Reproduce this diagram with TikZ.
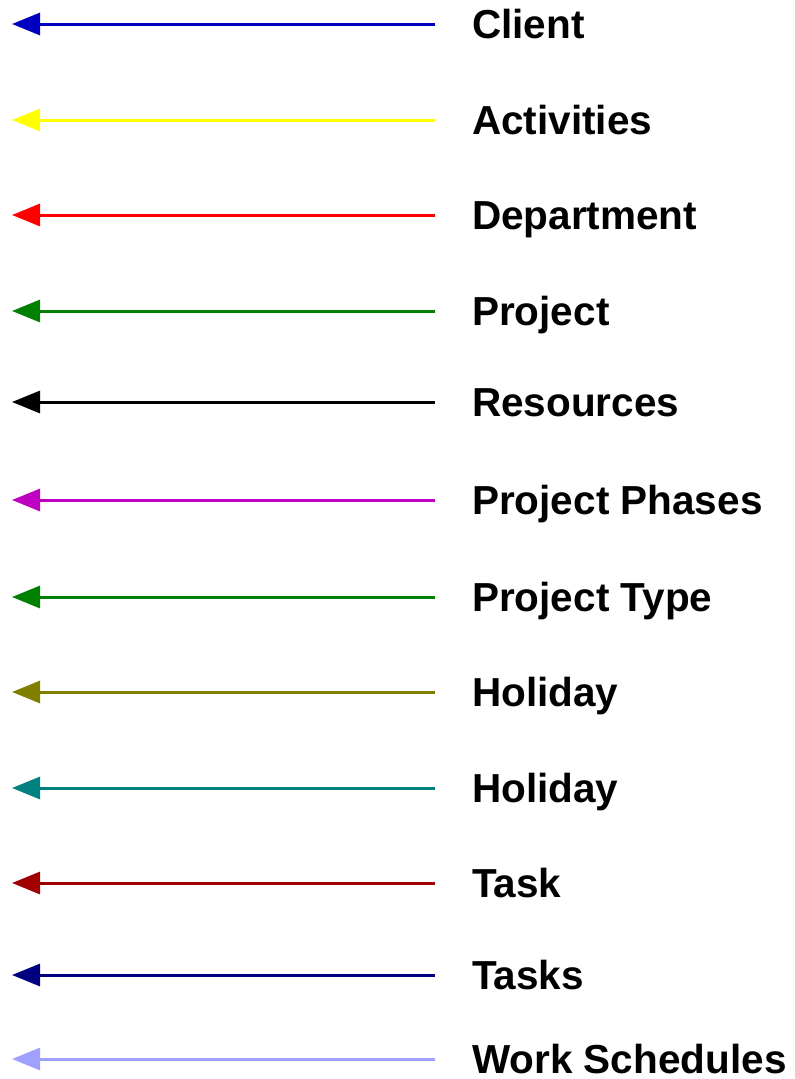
\documentclass[tikz,border=0pt]{standalone}
\usepackage{fontspec}
\setmainfont{Liberation Sans}
\usetikzlibrary{arrows.meta}
\definecolor{cClient}{HTML}{0000C0}
\definecolor{cAct}{HTML}{FFFF00}
\definecolor{cDept}{HTML}{FF0000}
\definecolor{cProj}{HTML}{008000}
\definecolor{cRes}{HTML}{000000}
\definecolor{cPhase}{HTML}{C000C0}
\definecolor{cType}{HTML}{008000}
\definecolor{cHolA}{HTML}{808000}
\definecolor{cHolB}{HTML}{008080}
\definecolor{cTask}{HTML}{A00000}
\definecolor{cTasks}{HTML}{000080}
\definecolor{cWork}{HTML}{A0A0FF}
\tikzset{
  legline/.style={line width=3pt,-{Triangle[length=28pt,width=22pt]}},
  legtext/.style={anchor=base west,inner sep=0pt,text depth=0pt,font=\fontsize{40.5}{40.5}\selectfont\bfseries}
}
\begin{document}
\begin{tikzpicture}[x=1pt,y=1pt]
\useasboundingbox (0,0) rectangle (795,-1079);
\foreach \y/\c/\t [count=\i] in {24/cClient/Client,120/cAct/Activities,215/cDept/Department,311/cProj/Project,402/cRes/Resources,500/cPhase/Project Phases,597/cType/Project Type,692/cHolA/Holiday,788/cHolB/Holiday,883/cTask/Task,975/cTasks/Tasks,1059/cWork/Work Schedules}{
  \coordinate (s\i) at (435,-\y);
  \coordinate (e\i) at (12,-\y);
  \node[legtext] (t\i) at (472,-\y-14.5) {\t};
  \draw[legline,draw=\c,fill=\c] (s\i) -- (e\i);
}
\end{tikzpicture}
\end{document}
